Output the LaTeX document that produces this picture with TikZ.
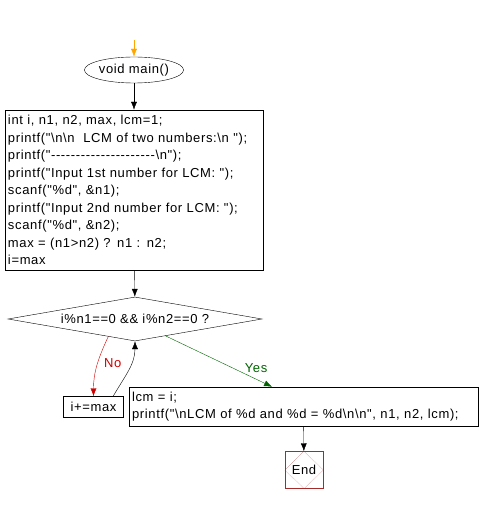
\documentclass[tikz,border=0pt]{standalone}
\usepackage{fontspec}
\setmainfont{Liberation Sans}[Ligatures=TeXOff, LetterSpace=5]
\usepackage{tikz}
\usetikzlibrary{arrows.meta, positioning, shapes.geometric, calc}

\newcommand{\bsl}{\textbackslash}
\definecolor{startorange}{HTML}{FFA500}
\definecolor{yesgreen}{HTML}{006400}
\definecolor{nored}{HTML}{CC0000}
\definecolor{endred}{HTML}{A52A2A}

\begin{document}
\begin{tikzpicture}[
    x=1pt, y=1pt, >={Latex[length=8pt,width=6pt]},
    every node/.style={font=\fontsize{13}{17.5}\selectfont},
    block/.style={draw, rectangle, align=left, inner sep=3pt},
    start/.style={draw, ellipse, minimum width=91pt, minimum height=26pt, inner sep=0pt},
    decision/.style={draw, diamond, aspect=5.8, minimum width=254pt, minimum height=44pt, inner sep=0pt},
    stop/.style={draw=endred, rectangle, minimum width=38pt, minimum height=37pt, inner sep=0pt},
    edge label/.style={inner sep=1pt}
]
\useasboundingbox (0,0) rectangle (481,-505);

\coordinate (top) at (134,-40);
\node[start] (main) at (134,-70) {void main()};
\node[block, text width=252pt, minimum height=160pt] (init) at (134,-190) {%
int i, n1, n2, max, lcm=1;\\
printf("\bsl n\bsl n\ \ LCM of two numbers:\bsl n ");\\
printf("---------------------\bsl n");\\
printf("Input 1st number for LCM: ");\\
scanf("\%d", \&n1);\\
printf("Input 2nd number for LCM: ");\\
scanf("\%d", \&n2);\\
max = (n1>n2) ? n1 : n2;\\
i=max};
\node[decision] (cond) at (135,-319) {i\%n1==0 \&\& i\%n2==0 ?};
\node[block, minimum width=60pt, minimum height=21pt, inner sep=2pt] (inc) at (93.5,-407) {i+=max};
\node[block, text width=343pt, minimum height=39pt] (lcm) at (303.5,-406.5) {%
lcm = i;\\
printf("\bsl nLCM of \%d and \%d = \%d\bsl n\bsl n", n1, n2, lcm);};
\node[stop] (end) at (304,-470) {End};
\draw[endred, densely dotted] (end.north) -- (end.east) -- (end.south) -- (end.west) -- cycle;

\coordinate (nostart) at ($(cond.south)!0.21!(cond.west)$);
\coordinate (yesstart) at ($(cond.south)!0.24!(cond.east)$);
\coordinate (yesend) at ($(lcm.north west)!0.41!(lcm.north east)$);
\coordinate (backstart) at ($(inc.north)!0.65!(inc.north east)$);

\draw[->, startorange] (top) -- (main);
\draw[->] (main) -- (init);
\draw[->] (init) -- (cond);
\draw[->, nored] (nostart) to[out=245, in=90] node[edge label, right=5pt, pos=0.45] {No} (inc.north);
\draw[->] (backstart) to[out=60, in=270] (cond.south);
\draw[->, yesgreen] (yesstart) -- (yesend) node[edge label, pos=0.85, above=5pt] {Yes};
\draw[->] (lcm) -- (end);
\end{tikzpicture}
\end{document}
